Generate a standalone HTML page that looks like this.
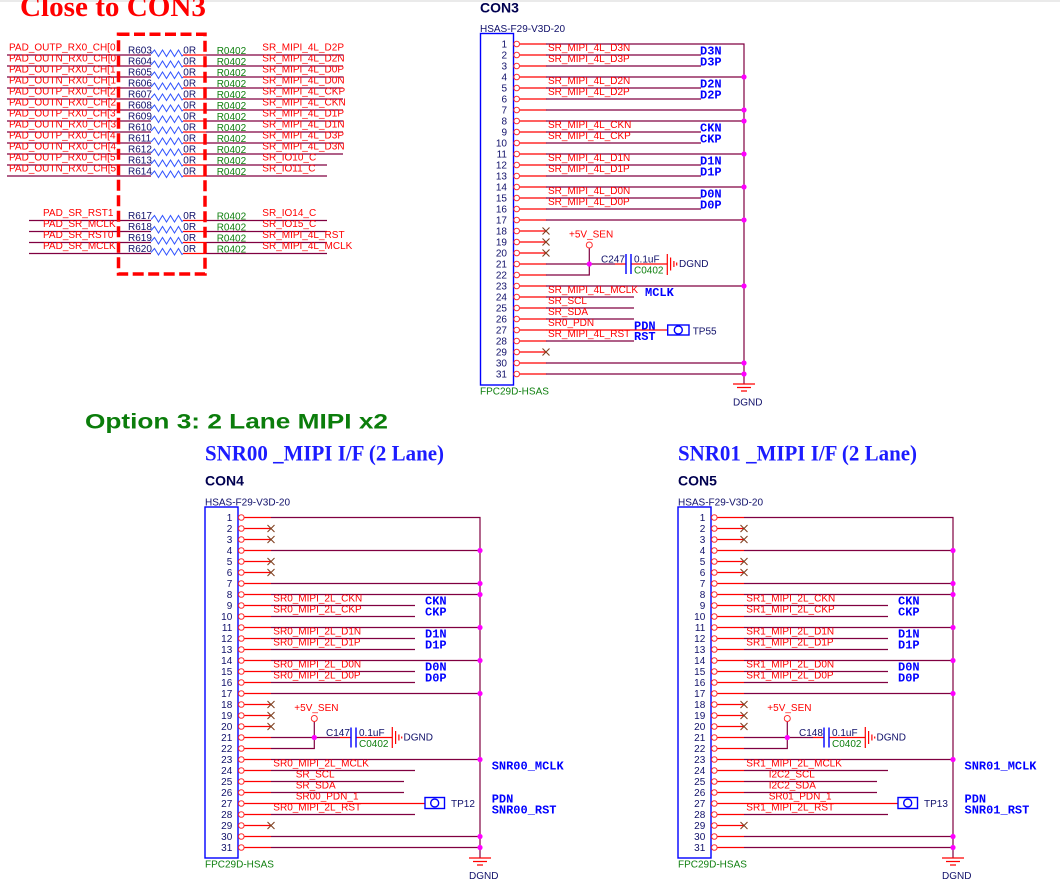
<!DOCTYPE html>
<html><head><meta charset="utf-8">
<style>
html,body{margin:0;padding:0;background:#fff;}
svg{display:block;}
text{font-family:"Liberation Sans",sans-serif;font-size:10px;}
.r{fill:#ff0000;}
.n{fill:#10106a;}
.g{fill:#108010;}
.b{font-family:"Liberation Mono",monospace;font-weight:bold;font-size:12px;fill:#0000ff;}
.w{stroke:#800040;stroke-width:1.2;fill:none;}
.rw{stroke:#ff0000;stroke-width:1.2;fill:none;}
.bl{stroke:#0000ff;stroke-width:1.4;fill:none;}
.x{stroke:#804020;stroke-width:1.1;fill:none;}
</style></head><body>
<svg width="1060" height="886" viewBox="0 0 1060 886" xmlns="http://www.w3.org/2000/svg">
<rect x="0" y="0" width="1060" height="886" fill="#fff"/>
<line x1="0" y1="1" x2="1060" y2="1" stroke="#d4d4d4" stroke-width="1"/>
<defs>
<polyline id="zz" points="151,-1 154.5,-5 158.5,1.5 162.5,-5 166.5,1.5 170.5,-5 174.5,1.5 178.5,-5 182,1 183,0" fill="none" stroke="#3355ff" stroke-width="1"/>
<circle id="dot" cx="0" cy="0" r="2.6" fill="#ff00ff"/>
<g id="pins" fill="none" stroke="#ff3030" stroke-width="1">
<circle cx="0" cy="0" r="2.8"/><circle cx="0" cy="11" r="2.8"/><circle cx="0" cy="22" r="2.8"/><circle cx="0" cy="33" r="2.8"/><circle cx="0" cy="44" r="2.8"/><circle cx="0" cy="55" r="2.8"/><circle cx="0" cy="66" r="2.8"/><circle cx="0" cy="77" r="2.8"/><circle cx="0" cy="88" r="2.8"/><circle cx="0" cy="99" r="2.8"/><circle cx="0" cy="110" r="2.8"/><circle cx="0" cy="121" r="2.8"/><circle cx="0" cy="132" r="2.8"/><circle cx="0" cy="143" r="2.8"/><circle cx="0" cy="154" r="2.8"/><circle cx="0" cy="165" r="2.8"/><circle cx="0" cy="176" r="2.8"/><circle cx="0" cy="187" r="2.8"/><circle cx="0" cy="198" r="2.8"/><circle cx="0" cy="209" r="2.8"/><circle cx="0" cy="220" r="2.8"/><circle cx="0" cy="231" r="2.8"/><circle cx="0" cy="242" r="2.8"/><circle cx="0" cy="253" r="2.8"/><circle cx="0" cy="264" r="2.8"/><circle cx="0" cy="275" r="2.8"/><circle cx="0" cy="286" r="2.8"/><circle cx="0" cy="297" r="2.8"/><circle cx="0" cy="308" r="2.8"/><circle cx="0" cy="319" r="2.8"/><circle cx="0" cy="330" r="2.8"/>
</g>
<path id="stubs" class="rw" d="M0 0h27M0 11h27M0 22h27M0 33h27M0 44h27M0 55h27M0 66h27M0 77h27M0 88h27M0 99h27M0 110h27M0 121h27M0 132h27M0 143h27M0 154h27M0 165h27M0 176h27M0 187h27M0 198h27M0 209h27M0 220h27M0 231h27M0 242h27M0 253h27M0 264h27M0 275h27M0 286h27M0 297h27M0 308h27M0 319h27M0 330h27"/>
<g id="c4">
<rect x="205" y="507" width="33" height="351" class="bl" stroke-width="1.3"/>
<use href="#stubs" x="244" y="517.5"/>
<use href="#pins" x="241.3" y="517.5"/>
<path class="w" d="M271 517.5H480V858M271 550.5H480M271 583.5H480M271 594.5H480M271 605.5H415M271 616.5H415M271 627.5H480M271 638.5H415M271 649.5H415M271 660.5H480M271 671.5H415M271 682.5H415M271 693.5H480M271 737.5H340M271 748.5H314.3V721.5M271 759.5H480M271 770.5H415M271 781.5H404M271 792.5H404M271 814.5H415M271 836.5H480M271 847.5H480"/>
<path class="rw" d="M271 803.5H425M340 737.5H351M356 737.5H392"/>
<path class="bl" stroke-width="1.6" d="M351 727.5V747.5M356 727.5V747.5"/>
<path class="rw" d="M392.3 727V748M395.6 731V744M398.9 734.5V740.5M401.7 736.5V738.5M469 858H491M473 861.5H487M477 865H483"/>
<rect x="425" y="797.5" width="19.5" height="11" class="bl" stroke-width="1.2"/>
<circle cx="434.7" cy="803" r="4" class="bl" stroke-width="1"/>
<circle cx="314.3" cy="718.5" r="3" fill="none" stroke="#ff3030" stroke-width="1"/>
<path class="x" d="M267.5 525l7 7m-7 0l7-7M267.5 536l7 7m-7 0l7-7M267.5 558l7 7m-7 0l7-7M267.5 569l7 7m-7 0l7-7M267.5 701l7 7m-7 0l7-7M267.5 712l7 7m-7 0l7-7M267.5 723l7 7m-7 0l7-7M267.5 822l7 7m-7 0l7-7"/>
<use href="#dot" x="480" y="550.5"/><use href="#dot" x="480" y="583.5"/><use href="#dot" x="480" y="594.5"/><use href="#dot" x="480" y="627.5"/><use href="#dot" x="480" y="660.5"/><use href="#dot" x="480" y="693.5"/><use href="#dot" x="480" y="759.5"/><use href="#dot" x="480" y="836.5"/><use href="#dot" x="480" y="847.5"/><use href="#dot" x="314.3" y="737.5"/>
</g>
</defs>

<!-- ===== Top-left resistor block ===== -->
<text x="20" y="16" style="font-family:'Liberation Serif',serif;font-size:29px;font-weight:bold" fill="#ff0000" textLength="186" lengthAdjust="spacingAndGlyphs">Close to CON3</text>

<path class="w" d="M7 55H151M7 66H151M7 77H151M7 88H151M7 99H151M7 110H151M7 121H151M7 132H151M7 143H151M7 154H151M7 165H151M7 176H151M29 220.5H151M29 231.5H151M29 242.5H151M29 253.5H151"/>
<path class="rw" d="M183 55H206M183 66H206M183 77H206M183 88H206M183 99H206M183 110H206M183 121H206M183 132H206M183 143H206M183 154H206M183 165H206M183 176H206M183 220.5H206M183 231.5H206M183 242.5H206M183 253.5H206"/>
<path class="w" d="M206 55H343M206 66H343M206 77H343M206 88H343M206 99H343M206 110H343M206 121H343M206 132H343M206 143H343M206 154H343M206 165H327M206 176H327M206 220.5H327M206 231.5H327M206 242.5H327M206 253.5H327"/>
<use href="#zz" y="55"/><use href="#zz" y="66"/><use href="#zz" y="77"/><use href="#zz" y="88"/><use href="#zz" y="99"/><use href="#zz" y="110"/><use href="#zz" y="121"/><use href="#zz" y="132"/><use href="#zz" y="143"/><use href="#zz" y="154"/><use href="#zz" y="165"/><use href="#zz" y="176"/>
<use href="#zz" y="220.5"/><use href="#zz" y="231.5"/><use href="#zz" y="242.5"/><use href="#zz" y="253.5"/>

<text class="r">
<tspan x="9" y="50.7">PAD_OUTP_RX0_CH[0</tspan>
<tspan x="9" y="61.7">PAD_OUTN_RX0_CH[0</tspan>
<tspan x="9" y="72.7">PAD_OUTP_RX0_CH[1</tspan>
<tspan x="9" y="83.7">PAD_OUTN_RX0_CH[1</tspan>
<tspan x="9" y="94.7">PAD_OUTP_RX0_CH[2</tspan>
<tspan x="9" y="105.7">PAD_OUTN_RX0_CH[2</tspan>
<tspan x="9" y="116.7">PAD_OUTP_RX0_CH[3</tspan>
<tspan x="9" y="127.7">PAD_OUTN_RX0_CH[3</tspan>
<tspan x="9" y="138.7">PAD_OUTP_RX0_CH[4</tspan>
<tspan x="9" y="149.7">PAD_OUTN_RX0_CH[4</tspan>
<tspan x="9" y="160.7">PAD_OUTP_RX0_CH[5</tspan>
<tspan x="9" y="171.7">PAD_OUTN_RX0_CH[5</tspan>
<tspan x="43" y="216.2">PAD_SR_RST1</tspan>
<tspan x="43" y="227.2">PAD_SR_MCLK</tspan>
<tspan x="43" y="238.2">PAD_SR_RST0</tspan>
<tspan x="43" y="249.2">PAD_SR_MCLK</tspan>
</text>
<text class="n">
<tspan x="128" y="53.7">R603</tspan><tspan x="128" y="64.7">R604</tspan><tspan x="128" y="75.7">R605</tspan><tspan x="128" y="86.7">R606</tspan><tspan x="128" y="97.7">R607</tspan><tspan x="128" y="108.7">R608</tspan><tspan x="128" y="119.7">R609</tspan><tspan x="128" y="130.7">R610</tspan><tspan x="128" y="141.7">R611</tspan><tspan x="128" y="152.7">R612</tspan><tspan x="128" y="163.7">R613</tspan><tspan x="128" y="174.7">R614</tspan>
<tspan x="128" y="219.2">R617</tspan><tspan x="128" y="230.2">R618</tspan><tspan x="128" y="241.2">R619</tspan><tspan x="128" y="252.2">R620</tspan>
<tspan x="183.3" y="53.7">0R</tspan><tspan x="183.3" y="64.7">0R</tspan><tspan x="183.3" y="75.7">0R</tspan><tspan x="183.3" y="86.7">0R</tspan><tspan x="183.3" y="97.7">0R</tspan><tspan x="183.3" y="108.7">0R</tspan><tspan x="183.3" y="119.7">0R</tspan><tspan x="183.3" y="130.7">0R</tspan><tspan x="183.3" y="141.7">0R</tspan><tspan x="183.3" y="152.7">0R</tspan><tspan x="183.3" y="163.7">0R</tspan><tspan x="183.3" y="174.7">0R</tspan>
<tspan x="183.3" y="219.2">0R</tspan><tspan x="183.3" y="230.2">0R</tspan><tspan x="183.3" y="241.2">0R</tspan><tspan x="183.3" y="252.2">0R</tspan>
</text>
<text class="g">
<tspan x="216.7" y="54">R0402</tspan><tspan x="216.7" y="65">R0402</tspan><tspan x="216.7" y="76">R0402</tspan><tspan x="216.7" y="87">R0402</tspan><tspan x="216.7" y="98">R0402</tspan><tspan x="216.7" y="109">R0402</tspan><tspan x="216.7" y="120">R0402</tspan><tspan x="216.7" y="131">R0402</tspan><tspan x="216.7" y="142">R0402</tspan><tspan x="216.7" y="153">R0402</tspan><tspan x="216.7" y="164">R0402</tspan><tspan x="216.7" y="175">R0402</tspan>
<tspan x="216.7" y="219.5">R0402</tspan><tspan x="216.7" y="230.5">R0402</tspan><tspan x="216.7" y="241.5">R0402</tspan><tspan x="216.7" y="252.5">R0402</tspan>
</text>
<text class="r">
<tspan x="262.3" y="50.7">SR_MIPI_4L_D2P</tspan>
<tspan x="262.3" y="61.7">SR_MIPI_4L_D2N</tspan>
<tspan x="262.3" y="72.7">SR_MIPI_4L_D0P</tspan>
<tspan x="262.3" y="83.7">SR_MIPI_4L_D0N</tspan>
<tspan x="262.3" y="94.7">SR_MIPI_4L_CKP</tspan>
<tspan x="262.3" y="105.7">SR_MIPI_4L_CKN</tspan>
<tspan x="262.3" y="116.7">SR_MIPI_4L_D1P</tspan>
<tspan x="262.3" y="127.7">SR_MIPI_4L_D1N</tspan>
<tspan x="262.3" y="138.7">SR_MIPI_4L_D3P</tspan>
<tspan x="262.3" y="149.7">SR_MIPI_4L_D3N</tspan>
<tspan x="262.3" y="160.7">SR_IO10_C</tspan>
<tspan x="262.3" y="171.7">SR_IO11_C</tspan>
<tspan x="262.3" y="216.2">SR_IO14_C</tspan>
<tspan x="262.3" y="227.2">SR_IO15_C</tspan>
<tspan x="262.3" y="238.2">SR_MIPI_4L_RST</tspan>
<tspan x="262.3" y="249.2">SR_MIPI_4L_MCLK</tspan>
</text>
<rect x="118.5" y="34.3" width="86.5" height="239.7" fill="none" stroke="#ff0000" stroke-width="3.5" stroke-dasharray="11 4.5"/>

<!-- ===== CON3 ===== -->
<text x="480" y="12.3" style="font-size:14px;font-weight:bold" fill="#000050">CON3</text>
<text x="480" y="32" class="n">HSAS-F29-V3D-20</text>
<rect x="480.5" y="33.5" width="33" height="351.5" class="bl" stroke-width="1.3"/>
<use href="#stubs" x="519.5" y="44"/>
<use href="#pins" x="516.7" y="44"/>
<path class="w" d="M546 44H744V384M546 55H701M546 66H701M546 77H744M546 88H701M546 99H701M546 110H744M546 121H744M546 132H701M546 143H701M546 154H744M546 165H701M546 176H701M546 187H744M546 198H701M546 209H701M546 220H744M546 264H615M546 275H589.3V248M546 286H744M546 297H634M546 308H634M546 319H634M546 341H634M546 363H744M546 374H744"/>
<path class="rw" d="M546 330H667.7M615 264H626M631 264H667"/>
<path class="bl" stroke-width="1.6" d="M626 254V274M631 254V274"/>
<path class="rw" d="M667.3 254V275M670.6 257.5V270.5M673.9 261V267M676.7 262.5V265.5M733 384H755M737 387.5H751M741 391H747"/>
<rect x="667.7" y="325" width="21.3" height="10" class="bl" stroke-width="1.2"/>
<circle cx="678.3" cy="330" r="4" class="bl" stroke-width="1"/>
<circle cx="589.3" cy="245" r="3" fill="none" stroke="#ff3030" stroke-width="1"/>
<path class="x" d="M542.5 227.5l7 7m-7 0l7-7M542.5 238.5l7 7m-7 0l7-7M542.5 249.5l7 7m-7 0l7-7M542.5 348.5l7 7m-7 0l7-7"/>
<use href="#dot" x="744" y="77"/><use href="#dot" x="744" y="110"/><use href="#dot" x="744" y="121"/><use href="#dot" x="744" y="154"/><use href="#dot" x="744" y="187"/><use href="#dot" x="744" y="220"/><use href="#dot" x="744" y="286"/><use href="#dot" x="744" y="363"/><use href="#dot" x="744" y="374"/><use href="#dot" x="589.3" y="264"/>
<text class="n" text-anchor="end">
<tspan x="507" y="47.5">1</tspan><tspan x="507" y="58.5">2</tspan><tspan x="507" y="69.5">3</tspan><tspan x="507" y="80.5">4</tspan><tspan x="507" y="91.5">5</tspan><tspan x="507" y="102.5">6</tspan><tspan x="507" y="113.5">7</tspan><tspan x="507" y="124.5">8</tspan><tspan x="507" y="135.5">9</tspan><tspan x="507" y="146.5">10</tspan><tspan x="507" y="157.5">11</tspan><tspan x="507" y="168.5">12</tspan><tspan x="507" y="179.5">13</tspan><tspan x="507" y="190.5">14</tspan><tspan x="507" y="201.5">15</tspan><tspan x="507" y="212.5">16</tspan><tspan x="507" y="223.5">17</tspan><tspan x="507" y="234.5">18</tspan><tspan x="507" y="245.5">19</tspan><tspan x="507" y="256.5">20</tspan><tspan x="507" y="267.5">21</tspan><tspan x="507" y="278.5">22</tspan><tspan x="507" y="289.5">23</tspan><tspan x="507" y="300.5">24</tspan><tspan x="507" y="311.5">25</tspan><tspan x="507" y="322.5">26</tspan><tspan x="507" y="333.5">27</tspan><tspan x="507" y="344.5">28</tspan><tspan x="507" y="355.5">29</tspan><tspan x="507" y="366.5">30</tspan><tspan x="507" y="377.5">31</tspan>
</text>
<text class="r">
<tspan x="548" y="51">SR_MIPI_4L_D3N</tspan>
<tspan x="548" y="62">SR_MIPI_4L_D3P</tspan>
<tspan x="548" y="84">SR_MIPI_4L_D2N</tspan>
<tspan x="548" y="95">SR_MIPI_4L_D2P</tspan>
<tspan x="548" y="128">SR_MIPI_4L_CKN</tspan>
<tspan x="548" y="139">SR_MIPI_4L_CKP</tspan>
<tspan x="548" y="161">SR_MIPI_4L_D1N</tspan>
<tspan x="548" y="172">SR_MIPI_4L_D1P</tspan>
<tspan x="548" y="194">SR_MIPI_4L_D0N</tspan>
<tspan x="548" y="205">SR_MIPI_4L_D0P</tspan>
<tspan x="548" y="293">SR_MIPI_4L_MCLK</tspan>
<tspan x="548" y="304">SR_SCL</tspan>
<tspan x="548" y="315">SR_SDA</tspan>
<tspan x="548" y="326">SR0_PDN</tspan>
<tspan x="548" y="337">SR_MIPI_4L_RST</tspan>
<tspan x="569" y="237.7">+5V_SEN</tspan>
</text>
<text class="b">
<tspan x="700" y="54.7">D3N</tspan><tspan x="700" y="65.7">D3P</tspan>
<tspan x="700" y="87.7">D2N</tspan><tspan x="700" y="98.7">D2P</tspan>
<tspan x="700" y="131.7">CKN</tspan><tspan x="700" y="142.7">CKP</tspan>
<tspan x="700" y="164.7">D1N</tspan><tspan x="700" y="175.7">D1P</tspan>
<tspan x="700" y="197.7">D0N</tspan><tspan x="700" y="208.7">D0P</tspan>
<tspan x="645" y="296">MCLK</tspan>
<tspan x="634" y="329.7">PDN</tspan><tspan x="634" y="340">RST</tspan>
</text>
<text class="n"><tspan x="601" y="262.5">C247</tspan><tspan x="634" y="262.5">0.1uF</tspan><tspan x="679" y="267">DGND</tspan><tspan x="692.7" y="334.3">TP55</tspan><tspan x="733" y="405.3">DGND</tspan></text>
<text class="g"><tspan x="634" y="273.6">C0402</tspan><tspan x="480" y="394.7">FPC29D-HSAS</tspan></text>

<!-- ===== Option 3 heading ===== -->
<text x="85" y="428.5" style="font-size:21px;font-weight:bold" fill="#0b7d0b" textLength="303" lengthAdjust="spacingAndGlyphs">Option 3: 2 Lane MIPI x2</text>

<!-- ===== CON4 & CON5 geometry ===== -->
<use href="#c4"/>
<use href="#c4" x="473"/>

<!-- CON4 texts -->
<text x="205" y="460.5" style="font-family:'Liberation Serif',serif;font-size:22px;font-weight:bold" fill="#1c1cff" textLength="239" lengthAdjust="spacingAndGlyphs">SNR00 _MIPI I/F (2 Lane)</text>
<text x="205" y="485.5" style="font-size:14px;font-weight:bold" fill="#000050">CON4</text>
<text x="205" y="505.5" class="n">HSAS-F29-V3D-20</text>
<text class="n" text-anchor="end">
<tspan x="232.3" y="521">1</tspan><tspan x="232.3" y="532">2</tspan><tspan x="232.3" y="543">3</tspan><tspan x="232.3" y="554">4</tspan><tspan x="232.3" y="565">5</tspan><tspan x="232.3" y="576">6</tspan><tspan x="232.3" y="587">7</tspan><tspan x="232.3" y="598">8</tspan><tspan x="232.3" y="609">9</tspan><tspan x="232.3" y="620">10</tspan><tspan x="232.3" y="631">11</tspan><tspan x="232.3" y="642">12</tspan><tspan x="232.3" y="653">13</tspan><tspan x="232.3" y="664">14</tspan><tspan x="232.3" y="675">15</tspan><tspan x="232.3" y="686">16</tspan><tspan x="232.3" y="697">17</tspan><tspan x="232.3" y="708">18</tspan><tspan x="232.3" y="719">19</tspan><tspan x="232.3" y="730">20</tspan><tspan x="232.3" y="741">21</tspan><tspan x="232.3" y="752">22</tspan><tspan x="232.3" y="763">23</tspan><tspan x="232.3" y="774">24</tspan><tspan x="232.3" y="785">25</tspan><tspan x="232.3" y="796">26</tspan><tspan x="232.3" y="807">27</tspan><tspan x="232.3" y="818">28</tspan><tspan x="232.3" y="829">29</tspan><tspan x="232.3" y="840">30</tspan><tspan x="232.3" y="851">31</tspan>
</text>
<text class="r">
<tspan x="273.3" y="601.5">SR0_MIPI_2L_CKN</tspan>
<tspan x="273.3" y="612.5">SR0_MIPI_2L_CKP</tspan>
<tspan x="273.3" y="634.5">SR0_MIPI_2L_D1N</tspan>
<tspan x="273.3" y="645.5">SR0_MIPI_2L_D1P</tspan>
<tspan x="273.3" y="667.5">SR0_MIPI_2L_D0N</tspan>
<tspan x="273.3" y="678.5">SR0_MIPI_2L_D0P</tspan>
<tspan x="273.3" y="766.5">SR0_MIPI_2L_MCLK</tspan>
<tspan x="295.7" y="777.5">SR_SCL</tspan>
<tspan x="295.7" y="788.5">SR_SDA</tspan>
<tspan x="295.7" y="799.5">SR00_PDN_1</tspan>
<tspan x="273.3" y="810.5">SR0_MIPI_2L_RST</tspan>
<tspan x="294.3" y="711">+5V_SEN</tspan>
</text>
<text class="b">
<tspan x="425" y="604.7">CKN</tspan><tspan x="425" y="615.7">CKP</tspan>
<tspan x="425" y="637.5">D1N</tspan><tspan x="425" y="648.5">D1P</tspan>
<tspan x="425" y="670.5">D0N</tspan><tspan x="425" y="681.5">D0P</tspan>
<tspan x="491.7" y="769.7">SNR00_MCLK</tspan>
<tspan x="491.7" y="802.3">PDN</tspan><tspan x="491.7" y="813.3">SNR00_RST</tspan>
</text>
<text class="n"><tspan x="326" y="736">C147</tspan><tspan x="359" y="736">0.1uF</tspan><tspan x="403.5" y="740.5">DGND</tspan><tspan x="451" y="807">TP12</tspan><tspan x="469" y="879">DGND</tspan></text>
<text class="g"><tspan x="359" y="747">C0402</tspan><tspan x="205" y="867.7">FPC29D-HSAS</tspan></text>

<!-- CON5 texts -->
<text x="678" y="460.5" style="font-family:'Liberation Serif',serif;font-size:22px;font-weight:bold" fill="#1c1cff" textLength="239" lengthAdjust="spacingAndGlyphs">SNR01 _MIPI I/F (2 Lane)</text>
<text x="678" y="485.5" style="font-size:14px;font-weight:bold" fill="#000050">CON5</text>
<text x="678" y="505.5" class="n">HSAS-F29-V3D-20</text>
<text class="n" text-anchor="end">
<tspan x="705.3" y="521">1</tspan><tspan x="705.3" y="532">2</tspan><tspan x="705.3" y="543">3</tspan><tspan x="705.3" y="554">4</tspan><tspan x="705.3" y="565">5</tspan><tspan x="705.3" y="576">6</tspan><tspan x="705.3" y="587">7</tspan><tspan x="705.3" y="598">8</tspan><tspan x="705.3" y="609">9</tspan><tspan x="705.3" y="620">10</tspan><tspan x="705.3" y="631">11</tspan><tspan x="705.3" y="642">12</tspan><tspan x="705.3" y="653">13</tspan><tspan x="705.3" y="664">14</tspan><tspan x="705.3" y="675">15</tspan><tspan x="705.3" y="686">16</tspan><tspan x="705.3" y="697">17</tspan><tspan x="705.3" y="708">18</tspan><tspan x="705.3" y="719">19</tspan><tspan x="705.3" y="730">20</tspan><tspan x="705.3" y="741">21</tspan><tspan x="705.3" y="752">22</tspan><tspan x="705.3" y="763">23</tspan><tspan x="705.3" y="774">24</tspan><tspan x="705.3" y="785">25</tspan><tspan x="705.3" y="796">26</tspan><tspan x="705.3" y="807">27</tspan><tspan x="705.3" y="818">28</tspan><tspan x="705.3" y="829">29</tspan><tspan x="705.3" y="840">30</tspan><tspan x="705.3" y="851">31</tspan>
</text>
<text class="r">
<tspan x="746.3" y="601.5">SR1_MIPI_2L_CKN</tspan>
<tspan x="746.3" y="612.5">SR1_MIPI_2L_CKP</tspan>
<tspan x="746.3" y="634.5">SR1_MIPI_2L_D1N</tspan>
<tspan x="746.3" y="645.5">SR1_MIPI_2L_D1P</tspan>
<tspan x="746.3" y="667.5">SR1_MIPI_2L_D0N</tspan>
<tspan x="746.3" y="678.5">SR1_MIPI_2L_D0P</tspan>
<tspan x="746.3" y="766.5">SR1_MIPI_2L_MCLK</tspan>
<tspan x="768.7" y="777.5">I2C2_SCL</tspan>
<tspan x="768.7" y="788.5">I2C2_SDA</tspan>
<tspan x="768.7" y="799.5">SR01_PDN_1</tspan>
<tspan x="746.3" y="810.5">SR1_MIPI_2L_RST</tspan>
<tspan x="767.3" y="711">+5V_SEN</tspan>
</text>
<text class="b">
<tspan x="898" y="604.7">CKN</tspan><tspan x="898" y="615.7">CKP</tspan>
<tspan x="898" y="637.5">D1N</tspan><tspan x="898" y="648.5">D1P</tspan>
<tspan x="898" y="670.5">D0N</tspan><tspan x="898" y="681.5">D0P</tspan>
<tspan x="964.5" y="769.7">SNR01_MCLK</tspan>
<tspan x="964.5" y="802.3">PDN</tspan><tspan x="964.5" y="813.3">SNR01_RST</tspan>
</text>
<text class="n"><tspan x="799" y="736">C148</tspan><tspan x="832" y="736">0.1uF</tspan><tspan x="876.5" y="740.5">DGND</tspan><tspan x="924" y="807">TP13</tspan><tspan x="942" y="879">DGND</tspan></text>
<text class="g"><tspan x="832" y="747">C0402</tspan><tspan x="678" y="867.7">FPC29D-HSAS</tspan></text>
</svg>
</body></html>
